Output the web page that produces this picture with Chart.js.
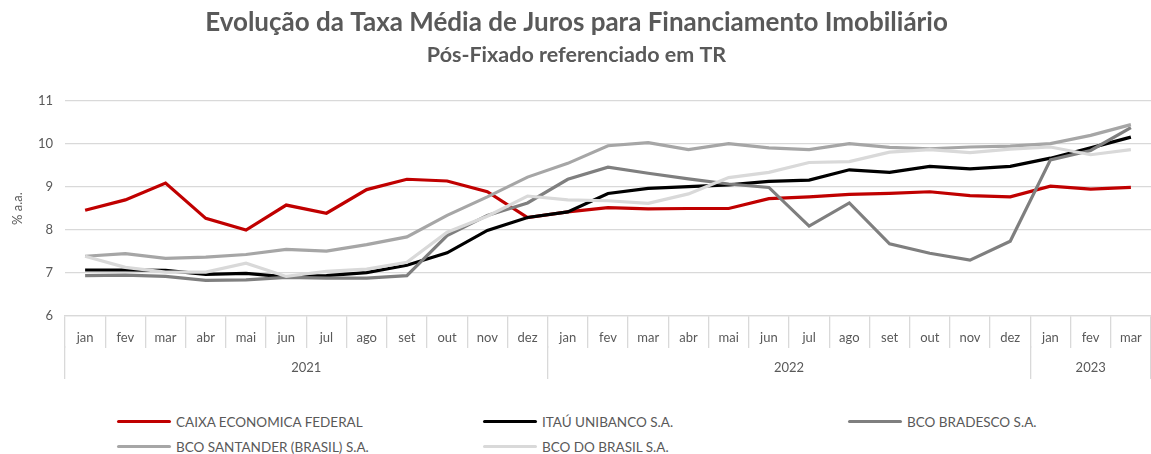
<!DOCTYPE html>
<html lang="pt-BR">
<head>
<meta charset="utf-8">
<title>Taxa Média de Juros - Financiamento Imobiliário</title>
<script src="https://cdn.jsdelivr.net/npm/chart.js@4.4.1/dist/chart.umd.min.js"></script>
<style>
  html, body { margin: 0; padding: 0; background: #fff; }
  body { width: 1151px; height: 454px; overflow: hidden; font-family: Lato, "Open Sans", sans-serif; }
  #wrap { position: relative; width: 1151px; height: 398px; }
  #legenda {
    display: grid;
    grid-template-columns: 366px 365px 300px;
    padding-left: 117px;
    row-gap: 6px;
    margin-top: 14px;
  }
  .item { display: flex; align-items: center; font-size: 13.5px; color: #595959; height: 19px; }
  .item span.linha { display: inline-block; width: 54px; height: 3px; margin-right: 5px; border-radius: 2px; }
</style>
</head>
<body>
<div id="wrap"><canvas id="grafico"></canvas></div>
<div id="legenda"></div>

<script>
// Meses (jan/2021 a mar/2023)
const meses = ['jan','fev','mar','abr','mai','jun','jul','ago','set','out','nov','dez',
               'jan','fev','mar','abr','mai','jun','jul','ago','set','out','nov','dez',
               'jan','fev','mar'];
const anos = ['2021', '2022', '2023'];

// Taxas em % a.a.
const caixa = [8.46, 8.70, 9.09, 8.27, 8.00, 8.58, 8.39, 8.94, 9.18, 9.14, 8.89, 8.29,
               8.42, 8.52, 8.49, 8.50, 8.50, 8.73, 8.77, 8.83, 8.85, 8.89, 8.80, 8.77,
               9.02, 8.95, 8.99];
const itau = [7.07, 7.07, 7.06, 6.97, 6.99, 6.91, 6.94, 7.01, 7.18, 7.47, 7.99, 8.29,
              8.42, 8.85, 8.97, 9.01, 9.05, 9.13, 9.16, 9.40, 9.34, 9.48, 9.42, 9.48,
              9.67, 9.91, 10.16];
const bradesco = [6.94, 6.95, 6.92, 6.83, 6.84, 6.90, 6.88, 6.88, 6.94, 7.87, 8.34, 8.63,
                  9.18, 9.46, 9.32, 9.19, 9.07, 8.99, 8.09, 8.63, 7.68, 7.46, 7.30, 7.74,
                  9.63, 9.85, 10.38];
const santander = [7.39, 7.45, 7.34, 7.37, 7.43, 7.55, 7.51, 7.66, 7.84, 8.34, 8.77, 9.23,
                   9.55, 9.96, 10.03, 9.87, 10.01, 9.91, 9.87, 10.01, 9.92, 9.89, 9.93, 9.95,
                   10.01, 10.20, 10.45];
const bb = [7.39, 7.13, 7.02, 7.02, 7.23, 6.92, 7.04, 7.09, 7.25, 7.95, 8.32, 8.79,
            8.70, 8.68, 8.62, 8.84, 9.22, 9.34, 9.57, 9.59, 9.81, 9.87, 9.80, 9.88,
            9.93, 9.75, 9.87];

const series = [
  { nome: 'CAIXA ECONOMICA FEDERAL', dados: caixa, cor: '#c00000', ordem: 5 },
  { nome: 'ITAÚ UNIBANCO S.A.', dados: itau, cor: '#000000', ordem: 4 },
  { nome: 'BCO BRADESCO S.A.', dados: bradesco, cor: '#7f7f7f', ordem: 3 },
  { nome: 'BCO SANTANDER (BRASIL) S.A.', dados: santander, cor: '#a6a6a6', ordem: 2 },
  { nome: 'BCO DO BRASIL S.A.', dados: bb, cor: '#d9d9d9', ordem: 1 }
];

const cinzaTexto = '#595959';
const cinzaGrade = '#d9d9d9';
const fonte = 'Lato, "Open Sans", sans-serif';

// posições dos anos no eixo de baixo (em "unidades de mês")
const limitesAnos = [0, 12, 24, 27];
const centrosAnos = [6, 18, 25.5];

const ctx = document.getElementById('grafico').getContext('2d');

new Chart(ctx, {
  type: 'line',
  data: {
    labels: meses,
    datasets: series.map(s => ({
      label: s.nome,
      data: s.dados,
      borderColor: s.cor,
      backgroundColor: s.cor,
      borderWidth: 3.2,
      pointRadius: 0,
      tension: 0,
      fill: false,
      order: s.ordem
    }))
  },
  options: {
    responsive: true,
    maintainAspectRatio: false,
    animation: false,
    layout: { padding: { left: 0, right: -2, top: 0, bottom: 20 } },
    plugins: {
      legend: { display: false },
      tooltip: { enabled: false },
      title: {
        display: true,
        text: 'Evolução da Taxa Média de Juros para Financiamento Imobiliário',
        color: cinzaTexto,
        font: { family: fonte, size: 26, weight: 'bold' },
        padding: { top: 7, bottom: 4 }
      },
      subtitle: {
        display: true,
        text: 'Pós-Fixado referenciado em TR',
        color: cinzaTexto,
        font: { family: fonte, size: 21.5, weight: 'bold' },
        padding: { top: 0, bottom: 33 }
      }
    },
    scales: {
      x: {
        type: 'category',
        offset: true,
        afterFit: (eixo) => { eixo.height = 30; },
        grid: {
          display: true,
          drawOnChartArea: false,
          offset: true,
          tickLength: 32,
          color: cinzaGrade,
          lineWidth: 1.3
        },
        border: { display: true, color: cinzaGrade, width: 1.3 },
        ticks: {
          color: cinzaTexto,
          font: { family: fonte, size: 13 },
          padding: -18,
          maxRotation: 0,
          autoSkip: false
        }
      },
      x2: {
        type: 'linear',
        position: 'bottom',
        min: 0,
        max: 27,
        afterFit: (eixo) => { eixo.height = 32; },
        afterBuildTicks: (eixo) => {
          eixo.ticks = limitesAnos.concat(centrosAnos)
            .sort((a, b) => a - b)
            .map(v => ({ value: v }));
        },
        grid: {
          display: true,
          drawOnChartArea: false,
          tickLength: 33,
          lineWidth: 1.3,
          color: (c) => (c.tick && limitesAnos.includes(c.tick.value)) ? cinzaGrade : 'rgba(0,0,0,0)'
        },
        border: { display: false },
        ticks: {
          color: cinzaTexto,
          font: { family: fonte, size: 13 },
          padding: -19,
          maxRotation: 0,
          autoSkip: false,
          callback: (v) => {
            const i = centrosAnos.indexOf(v);
            return i >= 0 ? anos[i] : '';
          }
        }
      },
      y: {
        min: 6,
        max: 11,
        afterFit: (eixo) => { eixo.width = 65; },
        ticks: {
          stepSize: 1,
          color: cinzaTexto,
          font: { family: fonte, size: 13 },
          padding: 12
        },
        grid: { color: cinzaGrade, lineWidth: 1.3, drawTicks: false },
        border: { display: false },
        title: {
          display: true,
          text: '% a.a.',
          color: cinzaTexto,
          font: { family: fonte, size: 13 },
          padding: { top: 10, bottom: 0 }
        }
      }
    }
  }
});

// legenda em grade de 3 colunas, como no original
const legenda = document.getElementById('legenda');
series.forEach(s => {
  const div = document.createElement('div');
  div.className = 'item';
  const linha = document.createElement('span');
  linha.className = 'linha';
  linha.style.background = s.cor;
  div.appendChild(linha);
  div.appendChild(document.createTextNode(s.nome));
  legenda.appendChild(div);
});
</script>
</body>
</html>
